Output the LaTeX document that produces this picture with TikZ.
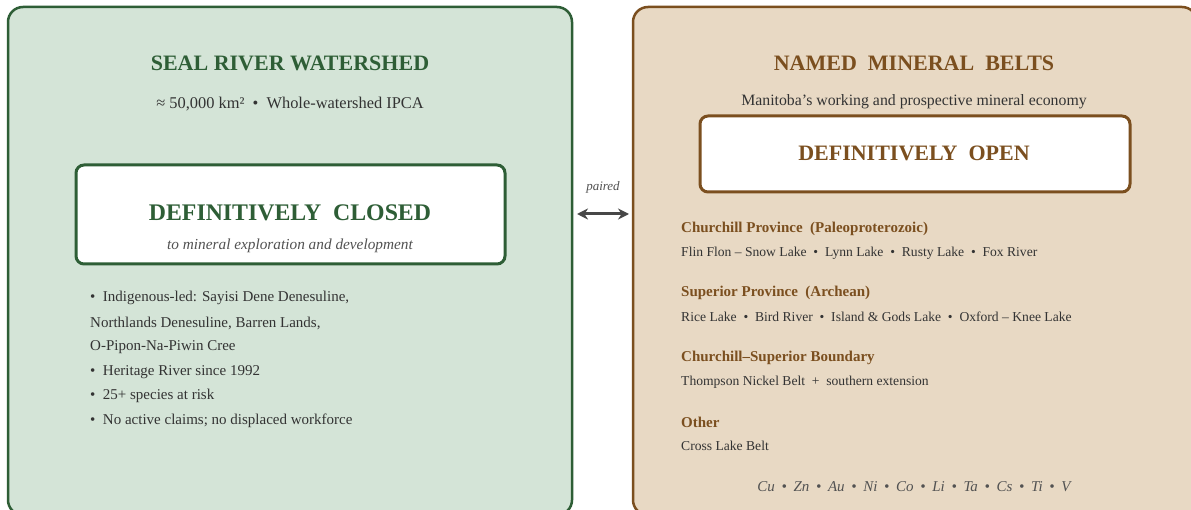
\documentclass[tikz,border=0pt]{standalone}
\usepackage{fontspec}
\setmainfont{Liberation Serif}
\usetikzlibrary{arrows.meta}

\definecolor{sealfill}{HTML}{D4E4D7}
\definecolor{sealdark}{HTML}{2E5E36}
\definecolor{beltfill}{HTML}{E8D9C4}
\definecolor{beltdark}{HTML}{7B4F1F}
\definecolor{inktext}{HTML}{333333}

\newcommand{\sz}[1]{\fontsize{#1}{#1}\selectfont}
\newcommand{\msep}{\hspace{6.7pt}•\hspace{6.7pt}}

\begin{document}
\begin{tikzpicture}[x=1pt, y=-1pt,
    panel/.style={rounded corners=15pt, line width=2.5pt},
    stamp/.style={rounded corners=8pt, line width=3pt, fill=white},
    txt/.style={inner sep=0pt, text=inktext},
    lefttxt/.style={txt, anchor=west},
    belthead/.style={inner sep=0pt, anchor=west, text=beltdark, font=\sz{15}\bfseries},
    beltline/.style={lefttxt, font=\sz{13.6}},
    sealitem/.style={lefttxt, font=\sz{15}},
    pairarrow/.style={line width=3pt, draw=inktext!90, {Stealth[length=11pt,width=11pt]}-{Stealth[length=11pt,width=11pt]}}]

  \clip (0, 0) rectangle (1191, 510);
  \fill[white] (0, 0) rectangle (1191, 510);

  % left panel
  \draw[panel, draw=sealdark, fill=sealfill] (8, 7) rectangle (572, 515);
  \node[txt, text=sealdark, font=\sz{22}\bfseries] (sealtitle) at (290, 63) {SEAL RIVER WATERSHED};
  \node[txt, font=\sz{16.4}] (sealsub) at (290, 104) {≈ 50,000 km²\ \ •\ \ Whole-watershed IPCA};

  \draw[stamp, draw=sealdark] (76, 165) rectangle (505, 264);
  \node[txt, text=sealdark, font=\sz{23.8}\bfseries] (closed) at (290, 213) {DEFINITIVELY\ \ CLOSED};
  \node[txt, text=inktext!85, font=\sz{15.3}\itshape] (closedsub) at (290, 246) {to mineral exploration and development};

  \node[sealitem] (item1) at (90, 298) {•\ \ Indigenous-led: Sayisi Dene Denesuline,};
  \node[sealitem] (item1b) at (90, 323) {Northlands Denesuline, Barren Lands,};
  \node[sealitem] (item1c) at (90, 347) {O-Pipon-Na-Piwin Cree};
  \node[sealitem] (item2) at (90, 372) {•\ \ Heritage River since 1992};
  \node[sealitem] (item3) at (90, 396) {•\ \ 25+ species at risk};
  \node[sealitem] (item4) at (90, 421) {•\ \ No active claims; no displaced workforce};

  % right panel
  \draw[panel, draw=beltdark, fill=beltfill] (633, 7) rectangle (1197, 515);
  \node[txt, text=beltdark, font=\sz{22}\bfseries] (belttitle) at (914, 63) {NAMED\ \ MINERAL\ \ BELTS};
  \node[txt, font=\sz{15.8}] (beltsub) at (914, 102) {Manitoba's working and prospective mineral economy};

  \draw[stamp, draw=beltdark] (700, 116) rectangle (1130, 192);
  \node[txt, text=beltdark, font=\sz{22}\bfseries] (open) at (914, 153) {DEFINITIVELY\ \ OPEN};

  \node[belthead] (churchill) at (681, 229) {Churchill Province\ \ (Paleoproterozoic)};
  \node[beltline] (churchillb) at (681, 253) {Flin Flon -- Snow Lake\ \ •\ \ Lynn Lake\ \ •\ \ Rusty Lake\ \ •\ \ Fox River};
  \node[belthead] (superior) at (681, 293) {Superior Province\ \ (Archean)};
  \node[beltline] (superiorb) at (681, 317) {Rice Lake\ \ •\ \ Bird River\ \ •\ \ Island \& Gods Lake\ \ •\ \ Oxford -- Knee Lake};
  \node[belthead] (boundary) at (681, 358) {Churchill--Superior Boundary};
  \node[beltline] (boundaryb) at (681, 382) {Thompson Nickel Belt\ \ +\ \ southern extension};
  \node[belthead] (other) at (681, 422) {Other};
  \node[beltline] (otherb) at (681, 446) {Cross Lake Belt};
  \node[txt, text=inktext!85, font=\sz{15}\itshape] (metals) at (914, 487) {Cu\msep Zn\msep Au\msep Ni\msep Co\msep Li\msep Ta\msep Cs\msep Ti\msep V};

  % link
  \coordinate (pairL) at (577, 214);
  \coordinate (pairR) at (629, 214);
  \draw[pairarrow] (pairL) -- (pairR);
  \node[txt, text=inktext!85, font=\sz{13}\itshape] (paired) at (603, 187) {paired};

\end{tikzpicture}
\end{document}
